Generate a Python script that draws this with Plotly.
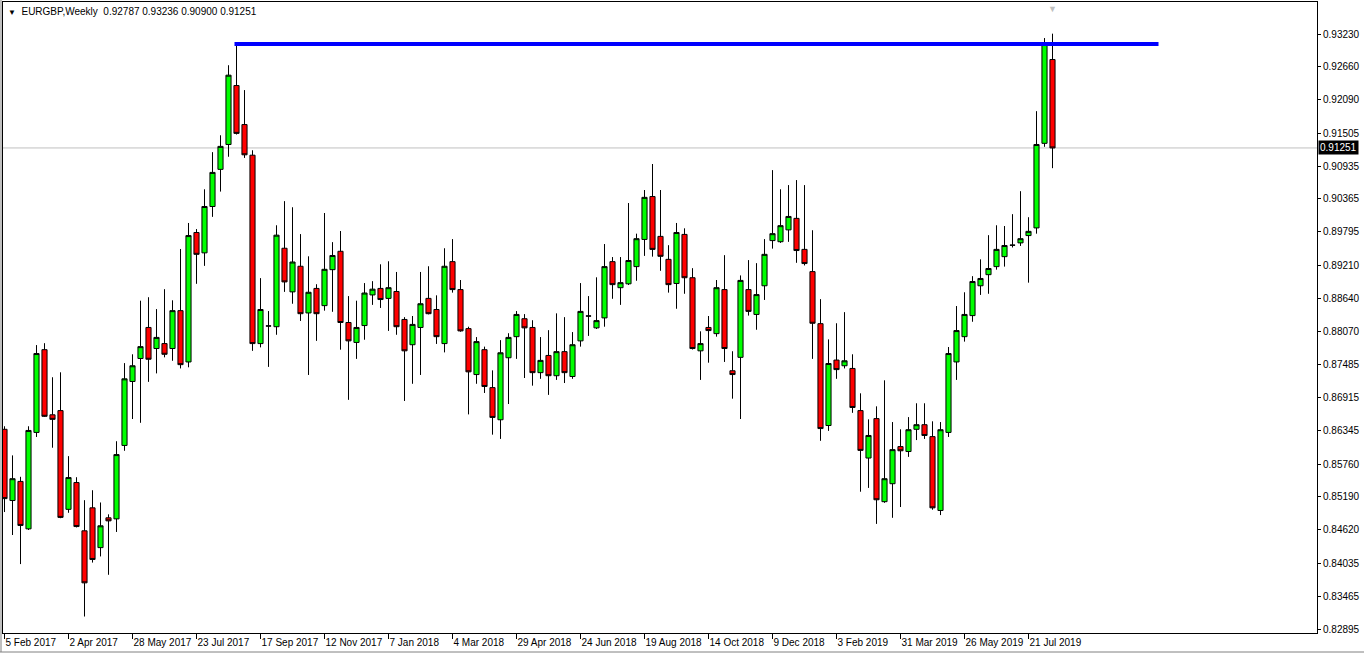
import pandas as pd
import plotly.graph_objects as go

# ---------------- data ----------------
symbol_title = "EURGBP,Weekly"
week_start = "2017-02-05"

open_ = [0.86364, 0.85127, 0.85459, 0.84635, 0.86310, 0.87747, 0.86616, 0.86689, 0.84974, 0.85439,
         0.84601, 0.85000, 0.84309, 0.84827, 0.84808, 0.86084, 0.87195, 0.87594, 0.88133, 0.87767,
         0.87853, 0.87767, 0.88425, 0.87534, 0.89782, 0.89429, 0.90234, 0.90879, 0.91311, 0.92335,
         0.91657, 0.91125, 0.87853, 0.88159, 0.88146, 0.89509, 0.88751, 0.89196, 0.88385, 0.88811,
         0.88512, 0.89137, 0.89456, 0.88219, 0.87873, 0.88166, 0.88698, 0.88811, 0.88638, 0.88758,
         0.88272, 0.87833, 0.88133, 0.88638, 0.88445, 0.87853, 0.89276, 0.88791, 0.88113, 0.87315,
         0.87747, 0.87088, 0.86530, 0.87607, 0.87973, 0.88285, 0.88133, 0.87348, 0.87647, 0.87295,
         0.87713, 0.87281, 0.87900, 0.88332, 0.88126, 0.88299, 0.89276, 0.88824, 0.88891, 0.89190,
         0.89662, 0.90407, 0.89715, 0.89316, 0.88897, 0.89749, 0.88997, 0.87727, 0.88133, 0.88026,
         0.88791, 0.87381, 0.87614, 0.88791, 0.88359, 0.88857, 0.89642, 0.89622, 0.89828, 0.90028,
         0.89489, 0.89103, 0.88199, 0.86430, 0.87567, 0.87468, 0.87421, 0.86689, 0.85865, 0.86550,
         0.85107, 0.85419, 0.86064, 0.85978, 0.86364, 0.86444, 0.86237, 0.84954, 0.86310, 0.87534,
         0.87973, 0.88339, 0.88857, 0.89050, 0.89190, 0.89363, 0.89562, 0.89602, 0.89729, 0.89862,
         0.91331, 0.92787]
high = [0.86417, 0.85911, 0.85539, 0.86417, 0.87827, 0.87860, 0.87268, 0.87354, 0.85898, 0.85532,
        0.85133, 0.85306, 0.85093, 0.84887, 0.86157, 0.87514, 0.87667, 0.88598, 0.88658, 0.88452,
        0.88798, 0.88605, 0.89496, 0.89948, 0.89842, 0.90533, 0.91178, 0.91471, 0.92688, 0.93060,
        0.92256, 0.91211, 0.88990, 0.88418, 0.89908, 0.90327, 0.90221, 0.89755, 0.89369, 0.88884,
        0.90121, 0.89615, 0.89808, 0.88678, 0.88598, 0.88904, 0.88937, 0.89230, 0.89283, 0.89097,
        0.88312, 0.88332, 0.89097, 0.89196, 0.88691, 0.89509, 0.89668, 0.88957, 0.88146, 0.87966,
        0.87800, 0.87388, 0.87913, 0.88033, 0.88418, 0.88365, 0.88259, 0.87966, 0.88086, 0.88378,
        0.88312, 0.88053, 0.88904, 0.88678, 0.89004, 0.89582, 0.89356, 0.89356, 0.90294, 0.89762,
        0.90520, 0.90972, 0.90520, 0.89562, 0.89948, 0.89855, 0.89163, 0.88066, 0.88332, 0.88957,
        0.89389, 0.87720, 0.89037, 0.89303, 0.89250, 0.89668, 0.90866, 0.90533, 0.90606, 0.90693,
        0.90606, 0.89822, 0.88625, 0.87926, 0.88206, 0.88399, 0.87667, 0.86989, 0.86537, 0.86763,
        0.87215, 0.86490, 0.86364, 0.86576, 0.86816, 0.86816, 0.86503, 0.86490, 0.87793, 0.88505,
        0.88744, 0.89024, 0.89316, 0.89736, 0.89908, 0.89895, 0.90101, 0.90500, 0.90048, 0.91890,
        0.93160, 0.93236]
low = [0.84927, 0.84528, 0.84023, 0.84615, 0.86231, 0.86580, 0.86044, 0.84820, 0.84914, 0.84660,
       0.83112, 0.84049, 0.84156, 0.83837, 0.84581, 0.85991, 0.86543, 0.86477, 0.87188, 0.87335,
       0.87614, 0.87554, 0.87421, 0.87441, 0.88891, 0.89203, 0.90054, 0.90493, 0.91098, 0.91484,
       0.91078, 0.87727, 0.87787, 0.87448, 0.88006, 0.88751, 0.88545, 0.88246, 0.87308, 0.87900,
       0.88425, 0.88405, 0.87747, 0.86876, 0.87587, 0.87920, 0.88525, 0.88472, 0.88073, 0.88006,
       0.86856, 0.87155, 0.87308, 0.88360, 0.87847, 0.87700, 0.88738, 0.88059, 0.86623, 0.87155,
       0.86995, 0.86271, 0.86197, 0.86803, 0.87587, 0.87255, 0.87122, 0.87241, 0.86962, 0.87222,
       0.87168, 0.87241, 0.87800, 0.87986, 0.88106, 0.88146, 0.88631, 0.88525, 0.88870, 0.88944,
       0.89376, 0.89363, 0.89117, 0.88738, 0.88458, 0.88718, 0.87750, 0.87222, 0.87521, 0.87973,
       0.87534, 0.86896, 0.86543, 0.88339, 0.88093, 0.88611, 0.89502, 0.89602, 0.89620, 0.89256,
       0.89210, 0.87587, 0.86164, 0.86337, 0.87241, 0.87421, 0.86650, 0.85280, 0.85346, 0.84721,
       0.85087, 0.84827, 0.85014, 0.85885, 0.86177, 0.86197, 0.84967, 0.84874, 0.86231, 0.87222,
       0.87887, 0.88232, 0.88698, 0.88718, 0.89137, 0.89190, 0.89522, 0.89549, 0.88911, 0.89762,
       0.91271, 0.90900]
close = [0.85160, 0.85506, 0.84694, 0.86344, 0.87680, 0.86590, 0.86537, 0.84834, 0.85526, 0.84675,
         0.83697, 0.84103, 0.84688, 0.84774, 0.85925, 0.87241, 0.87468, 0.87800, 0.87581, 0.87960,
         0.87667, 0.88425, 0.87487, 0.89729, 0.89403, 0.90234, 0.90826, 0.91278, 0.92515, 0.91504,
         0.91132, 0.87853, 0.88445, 0.88159, 0.89736, 0.88924, 0.89270, 0.88372, 0.88744, 0.88372,
         0.89143, 0.89383, 0.88219, 0.87900, 0.88133, 0.88731, 0.88798, 0.88618, 0.88824, 0.88146,
         0.87727, 0.88186, 0.88545, 0.88372, 0.87973, 0.89196, 0.88791, 0.88073, 0.87362, 0.87887,
         0.87108, 0.86570, 0.87693, 0.87960, 0.88359, 0.88126, 0.87348, 0.87561, 0.87295, 0.87713,
         0.87348, 0.87833, 0.88412, 0.88332, 0.88252, 0.89190, 0.88877, 0.88911, 0.89296, 0.89675,
         0.90393, 0.89489, 0.89369, 0.88877, 0.89782, 0.88997, 0.87767, 0.87853, 0.88079, 0.88824,
         0.87767, 0.87315, 0.88950, 0.88412, 0.88704, 0.89403, 0.89762, 0.89901, 0.90061, 0.89469,
         0.89243, 0.88206, 0.86377, 0.87507, 0.87401, 0.87554, 0.86743, 0.85998, 0.86257, 0.85140,
         0.85506, 0.86011, 0.85991, 0.86357, 0.86444, 0.86257, 0.85000, 0.86357, 0.87680, 0.88079,
         0.88359, 0.88931, 0.88984, 0.89157, 0.89489, 0.89556, 0.89562, 0.89675, 0.89802, 0.91311,
         0.93067, 0.91251]

date_tick_labels = ["5 Feb 2017", "2 Apr 2017", "28 May 2017", "23 Jul 2017", "17 Sep 2017",
                    "12 Nov 2017", "7 Jan 2018", "4 Mar 2018", "29 Apr 2018", "24 Jun 2018",
                    "19 Aug 2018", "14 Oct 2018", "9 Dec 2018", "3 Feb 2019", "31 Mar 2019",
                    "26 May 2019", "21 Jul 2019"]
price_ticks = [0.93230, 0.92660, 0.92090, 0.91505, 0.90935, 0.90365, 0.89795, 0.89210, 0.88640,
               0.88070, 0.87485, 0.86915, 0.86345, 0.85760, 0.85190, 0.84620, 0.84035, 0.83465,
               0.82895]
resistance_level = 0.93056
resistance_start_index = 29
resistance_end_week = 144.25

# ---------------- layout geometry ----------------
W, H = 1364, 655
ML, MR, MT, MB = 3, 47, 2, 22
PW, PH = W - ML - MR, H - MT - MB

dates = pd.date_range(week_start, periods=len(open_), freq="7D")
week = pd.Timedelta(days=7)
# half-pixel offset so that 1px wicks land on whole pixels
x_range = [dates[0] - 0.1875 * week, dates[0] + 164.0625 * week]
y_range = [0.82826, 0.93786]
last_price = close[-1]

FONT = "Liberation Sans, Arial, sans-serif"


def px_x(px):
    return (px - ML) / PW


def px_y(py):
    return (H - MB - py) / PH


fig = go.Figure()
fig.add_trace(go.Candlestick(
    x=dates, open=open_, high=high, low=low, close=close,
    increasing=dict(fillcolor="#00FF00", line=dict(color="black", width=1)),
    decreasing=dict(fillcolor="#FF0000", line=dict(color="black", width=1)),
    whiskerwidth=0, hoverinfo="skip", showlegend=False,
))

shapes = [
    # current bid line
    dict(type="line", xref="paper", yref="y", x0=0, x1=1, y0=last_price, y1=last_price,
         line=dict(color="#C0C0C0", width=1), layer="below"),
    # horizontal resistance trend line
    dict(type="line", xref="x", yref="y",
         x0=dates[resistance_start_index] - 0.25 * week,
         x1=dates[0] + resistance_end_week * week,
         y0=resistance_level, y1=resistance_level,
         line=dict(color="#0000FF", width=4)),
    # window borders
    dict(type="line", xref="paper", yref="paper", x0=px_x(1), x1=px_x(1), y0=px_y(0), y1=px_y(652),
         line=dict(color="#808080", width=1)),
    dict(type="line", xref="paper", yref="paper", x0=px_x(0), x1=px_x(1364), y0=px_y(652), y1=px_y(652),
         line=dict(color="#808080", width=1)),
]

annotations = [
    dict(xref="paper", yref="paper", x=px_x(6), y=px_y(12), xanchor="left", yanchor="middle",
         text="<span style='font-size:8px'>▼</span>  " + symbol_title + "  "
              + " ".join(f"{v:.5f}" for v in (open_[-1], high[-1], low[-1], close[-1])),
         showarrow=False, font=dict(family=FONT, size=10, color="black")),
    dict(xref="paper", yref="y", x=1, y=last_price, xanchor="left", yanchor="middle",
         text=f"{last_price:.5f}", showarrow=False, bgcolor="black", xshift=1,
         borderpad=1, font=dict(family=FONT, size=10, color="white")),
    dict(xref="x", yref="paper", x=dates[-1], y=1, xanchor="center", yanchor="top",
         text="▼", showarrow=False, font=dict(family=FONT, size=9, color="#C0C0C0")),
]

fig.update_layout(
    width=W, height=H,
    margin=dict(l=ML, r=MR, t=MT, b=MB, autoexpand=False),
    paper_bgcolor="white", plot_bgcolor="white",
    boxgap=0.2, boxgroupgap=0.2,
    showlegend=False,
    shapes=shapes, annotations=annotations,
    font=dict(family=FONT, size=10, color="black"),
    xaxis=dict(
        type="date", range=x_range, rangeslider=dict(visible=False),
        tickvals=list(dates[::8]), ticktext=date_tick_labels,
        tickangle=0, automargin=False,
        ticks="outside", ticklen=5, tickcolor="black", tickwidth=1,
        ticklabelposition="outside right",
        showline=True, linecolor="black", linewidth=1, mirror=True,
        showgrid=False, zeroline=False,
        tickfont=dict(family=FONT, size=10, color="black"),
    ),
    yaxis=dict(
        side="right", range=y_range, automargin=False,
        tickvals=price_ticks, ticktext=[f"{v:.5f}" for v in price_ticks],
        ticks="outside", ticklen=3, tickcolor="black", tickwidth=1,
        showline=True, linecolor="black", linewidth=1, mirror=True,
        showgrid=False, zeroline=False,
        tickfont=dict(family=FONT, size=10, color="black"),
    ),
)

fig.write_html(
    "out.html",
    config={"displayModeBar": False},
    post_script="document.body.style.margin='0';document.body.style.overflow='hidden';",
)
